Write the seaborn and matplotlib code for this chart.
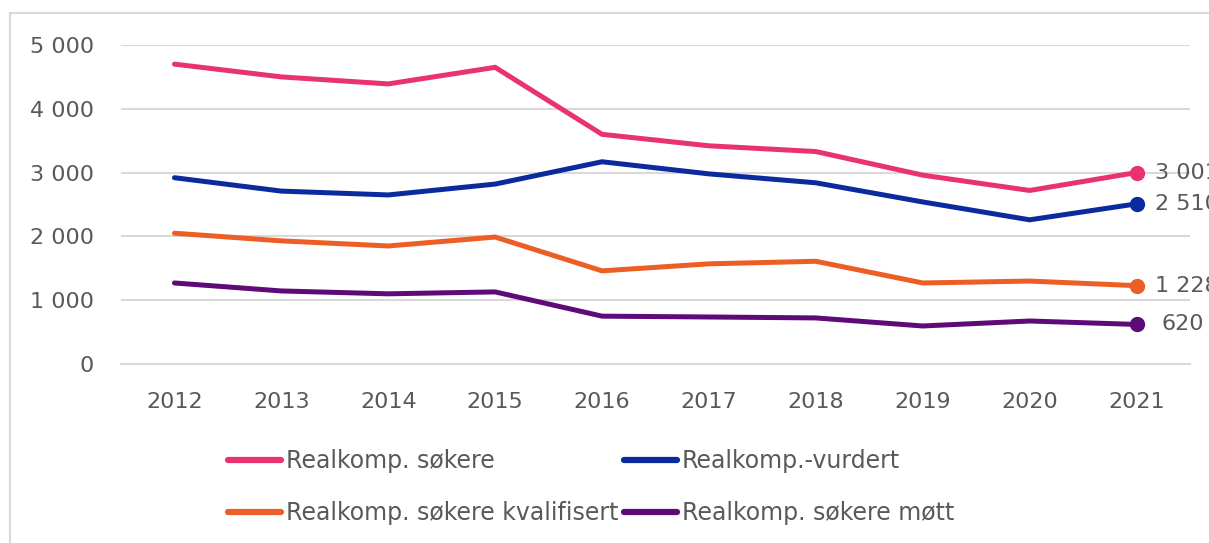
import matplotlib
matplotlib.use("Agg")
import matplotlib.pyplot as plt
import seaborn as sns
import pandas as pd
from matplotlib.lines import Line2D
from matplotlib.patches import Rectangle
from matplotlib.ticker import FuncFormatter

years = ["2012", "2013", "2014", "2015", "2016", "2017", "2018", "2019", "2020", "2021"]
sokere = [4700, 4500, 4390, 4650, 3600, 3420, 3330, 2960, 2720, 3001]
vurdert = [2920, 2710, 2650, 2820, 3170, 2980, 2840, 2540, 2260, 2510]
kvalifisert = [2050, 1930, 1850, 1990, 1460, 1570, 1610, 1270, 1300, 1228]
mott = [1270, 1145, 1100, 1130, 750, 737, 722, 596, 674, 620]

series_names = ["Realkomp. søkere", "Realkomp.-vurdert",
                "Realkomp. søkere kvalifisert", "Realkomp. søkere møtt"]
series_values = [sokere, vurdert, kvalifisert, mott]
colors = ["#E8336E", "#0A2A9E", "#EC5E24", "#5E0A78"]

rows = []
for name, vals in zip(series_names, series_values):
    for i, (y, v) in enumerate(zip(years, vals)):
        rows.append({"idx": i, "year": y, "value": v, "series": name})
df = pd.DataFrame(rows)

sns.set_theme(style="white")
plt.rcParams["font.family"] = ["DejaVu Sans"]
text_color = "#595959"
fs = 16

fig = plt.figure(figsize=(12.09, 5.43), dpi=100)
ax = fig.add_axes([121 / 1209, 1 - 364 / 543, (1190 - 121) / 1209, (364 - 45) / 543])

sns.lineplot(data=df, x="idx", y="value", hue="series", hue_order=series_names,
             palette=colors, linewidth=3.6, ax=ax, legend=False, sort=False)
for line in ax.lines:
    line.set_solid_capstyle("round")
    line.set_solid_joinstyle("miter")

# end markers and labels
for name, vals, c in zip(series_names, series_values, colors):
    ax.plot([len(years) - 1], [vals[-1]], marker="o", markersize=10, color=c,
            linestyle="none", zorder=5)
    lab = f"{vals[-1]:,}".replace(",", " ")
    ax.annotate(lab, xy=(len(years) - 1, vals[-1]), xytext=(13 if vals[-1] >= 1000 else 18, 0),
                textcoords="offset points", va="center", ha="left",
                fontsize=fs, color=text_color, annotation_clip=False)

ax.set_xlim(-0.5, len(years) - 0.5)
ax.set_ylim(0, 5000)
ax.set_yticks([0, 1000, 2000, 3000, 4000, 5000])
ax.yaxis.set_major_formatter(FuncFormatter(lambda v, p: f"{int(v):,}".replace(",", " ")))
ax.set_xticks(range(len(years)))
ax.set_xticklabels(years)
ax.grid(axis="y", color="#D9D9D9", linewidth=1.5)
ax.grid(axis="x", visible=False)
for s in ax.spines.values():
    s.set_visible(False)
ax.spines["bottom"].set_visible(True)
ax.spines["bottom"].set_color("#D9D9D9")
ax.spines["bottom"].set_linewidth(1.5)
ax.tick_params(axis="y", length=0, pad=19.5, labelsize=fs, labelcolor=text_color)
ax.tick_params(axis="x", length=0, pad=20, labelsize=fs, labelcolor=text_color)
ax.set_xlabel("")
ax.set_ylabel("")

# legend: row-wise order (matplotlib fills columns first)
order = [0, 2, 1, 3]
handles = [Line2D([0], [0], color=colors[i], linewidth=4.5, solid_capstyle="round") for i in order]
labels = [series_names[i] for i in order]
fig.legend(handles, labels, loc="center left",
           bbox_to_anchor=(228 / 1209, 1 - 487 / 543), ncol=2, frameon=False,
           fontsize=17, labelcolor=text_color, handlelength=2.25, handletextpad=0.2,
           columnspacing=0.25, labelspacing=1.2, borderpad=0, borderaxespad=0)

fig.patches.append(Rectangle((10 / 1209, -0.1), 1.2, 1.1 - 13 / 543, transform=fig.transFigure,
                             fill=False, edgecolor="#D9D9D9", linewidth=1.5))

fig.savefig("out.png", dpi=100, facecolor="white")
